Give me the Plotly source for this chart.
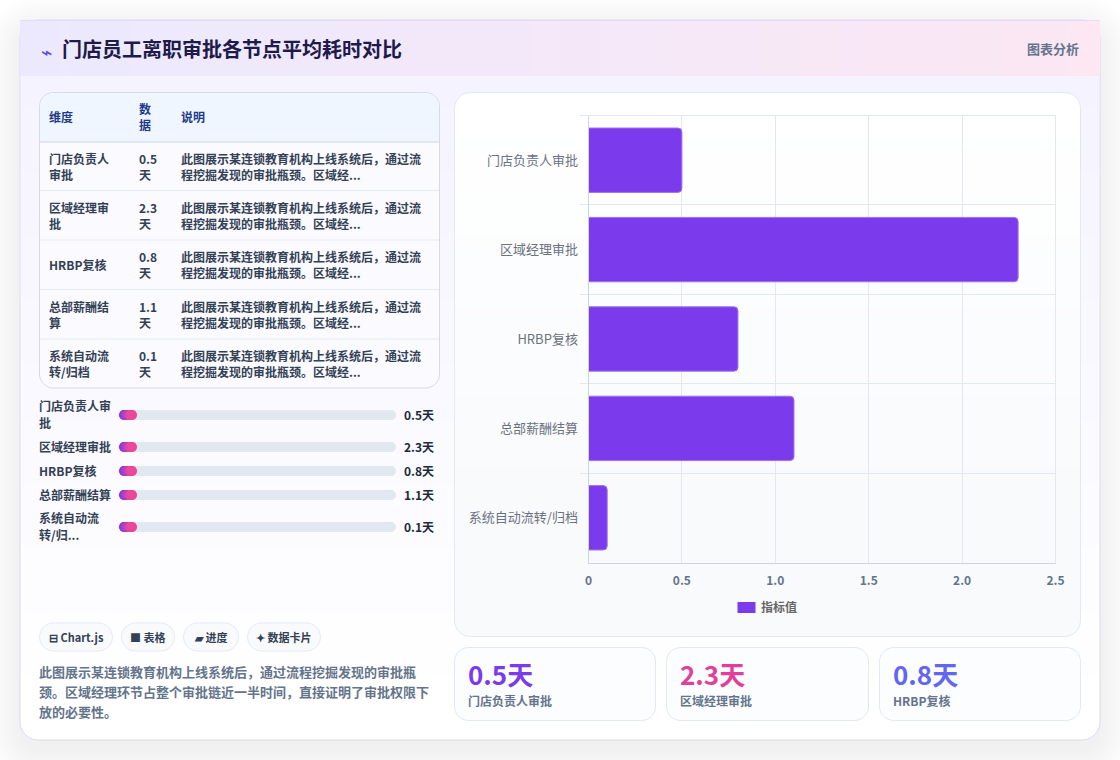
import numpy as np
import plotly.graph_objects as go

# Approval data
nodes = ["门店负责人审批", "区域经理审批", "HRBP复核", "总部薪酬结算", "系统自动流转/归档"]
days = [0.5, 2.3, 0.8, 1.1, 0.1]
day_labels = ["0.5天", "2.3天", "0.8天", "1.1天", "0.1天"]
progress_share = [0.065, 0.065, 0.065, 0.065, 0.065]
series_name = "指标值"
x_ticks = [0, 0.5, 1.0, 1.5, 2.0, 2.5]
x_tick_labels = ["0", "0.5", "1.0", "1.5", "2.0", "2.5"]

title = "门店员工离职审批各节点平均耗时对比"
badge = "图表分析"
table_head = ["维度", "数<br>据", "说明"]
table_nodes = ["门店负责人<br>审批", "区域经理审<br>批", "HRBP复核", "总部薪酬结<br>算", "系统自动流<br>转/归档"]
table_values = ["0.5<br>天", "2.3<br>天", "0.8<br>天", "1.1<br>天", "0.1<br>天"]
table_note = "此图展示某连锁教育机构上线系统后，通过流<br>程挖掘发现的审批瓶颈。区域经..."
progress_labels = ["门店负责人审<br>批", "区域经理审批", "HRBP复核", "总部薪酬结算", "系统自动流<br>转/归..."]
chips = ["⊟ Chart.js", "■ 表格", "▰ 进度", "✦ 数据卡片"]
summary = ["此图展示某连锁教育机构上线系统后，通过流程挖掘发现的审批瓶",
           "颈。区域经理环节占整个审批链近一半时间，直接证明了审批权限下",
           "放的必要性。"]
stat_colors = ["#7c3aed", "#e0409a", "#6366f1"]

FONT = "Noto Sans CJK SC, Noto Sans, sans-serif"
W, H = 1120, 760
shapes, notes = [], []


def rounded(x0, y0, x1, y1, r, corners=(1, 1, 1, 1)):
    """SVG path for a rectangle with selectively rounded corners (tl, tr, br, bl)."""
    k = 0.4477 * r
    tl, tr, br, bl = [r if c else 0 for c in corners]
    p = f"M{x0 + tl},{y0} L{x1 - tr},{y0} "
    if tr:
        p += f"C{x1 - k},{y0} {x1},{y0 + k} {x1},{y0 + r} "
    p += f"L{x1},{y1 - br} "
    if br:
        p += f"C{x1},{y1 - k} {x1 - k},{y1} {x1 - r},{y1} "
    p += f"L{x0 + bl},{y1} "
    if bl:
        p += f"C{x0 + k},{y1} {x0},{y1 - k} {x0},{y1 - r} "
    p += f"L{x0},{y0 + tl} "
    if tl:
        p += f"C{x0},{y0 + k} {x0 + k},{y0} {x0 + r},{y0} "
    return p + "Z"


def box(x0, y0, x1, y1, r, fill, line=None, lw=1, opacity=1, corners=(1, 1, 1, 1)):
    shapes.append(dict(type="path", path=rounded(x0, y0, x1, y1, r, corners), xref="x", yref="y",
                       fillcolor=fill, opacity=opacity, layer="below",
                       line=dict(color=line or "rgba(0,0,0,0)", width=lw if line else 0)))


def rect(x0, y0, x1, y1, fill):
    shapes.append(dict(type="rect", x0=x0, y0=y0, x1=x1, y1=y1, xref="x", yref="y",
                       fillcolor=fill, line=dict(width=0), layer="below"))


def hline(x0, x1, y, color):
    shapes.append(dict(type="line", x0=x0, x1=x1, y0=y, y1=y, xref="x", yref="y",
                       line=dict(color=color, width=1), layer="below"))


def vline(x, y0, y1, color):
    shapes.append(dict(type="line", x0=x, x1=x, y0=y0, y1=y1, xref="x", yref="y",
                       line=dict(color=color, width=1), layer="below"))


def mix(a, b, t):
    ca = [int(a[i:i + 2], 16) for i in (1, 3, 5)]
    cb = [int(b[i:i + 2], 16) for i in (1, 3, 5)]
    return "rgb(" + ",".join(str(round(p + (q - p) * t)) for p, q in zip(ca, cb)) + ")"


def text(x, y, s, size=12, color="#334155", bold=False, anchor="left", pitch=16):
    lines = s.split("<br>")
    top = y - pitch * (len(lines) - 1) / 2
    for i, line in enumerate(lines):
        notes.append(dict(x=x, y=top + i * pitch, xref="x", yref="y", text=line, showarrow=False,
                          xanchor=anchor, yanchor="middle", borderpad=0, borderwidth=0,
                          font=dict(family=FONT, size=size, color=color, weight=700 if bold else 400)))


# Soft drop shadow beneath the main card
for i in range(14):
    grow = 34 - i * 2.5
    box(20 - grow, 30 - grow, 1100 + grow, 750 + grow, 18 + grow, "#1e1b4b", opacity=0.0035)

# Main card and its vertical wash
box(20, 20, 1100, 740, 18, "#ffffff", line="#dcd8f3")
for y in np.arange(76, 700, 8):
    rect(21, y, 1099, y + 8, mix("#f5f3ff", "#ffffff", (y - 76) / 624))

# Header band with a horizontal gradient
for x in np.arange(20, 1100, 10):
    rect(x, 21, x + 10, 76, mix("#ece9fe", "#fce7f3", (x - 20) / 1080))
hline(20, 1100, 20.5, "#e2dcf8")
text(41, 50, "⌁", size=19, color="#4f46e5")
text(62, 48.8, title, size=20, color="#1e1b4b", bold=True)
text(1079, 48, badge, size=13, color="#64748b", bold=True, anchor="right")

# Table
rows_y = [142, 190.5, 240, 289.5, 339, 388]
box(39.5, 92.5, 439.5, 388, 14, "#fbfaff", line="#d6dae8")
box(40, 93, 439, 142, 14, "#eff6ff", corners=(1, 1, 0, 0))
hline(40, 439, 142, "#cfd6e6")
for y in rows_y[1:-1]:
    hline(40, 439, y, "#e6eaf3")
col_x = [49, 139, 181]
for cx, head in zip(col_x, table_head):
    text(cx, 116.5, head, color="#1e3a8a", bold=True)
for i in range(5):
    cy = (rows_y[i] + rows_y[i + 1]) / 2
    text(col_x[0], cy, table_nodes[i], bold=True)
    text(col_x[1], cy, table_values[i], bold=True)
    text(col_x[2], cy, table_note, bold=True)

# Progress rows: grey tracks, labels and values
progress_y = [415, 447, 471, 495, 527]
for label, value, y in zip(progress_labels, day_labels, progress_y):
    box(119, y - 5, 396, y + 5, 5, "#e2e8f0")
    text(39, y - 0.7, label, bold=True, pitch=17)
    text(404, y - 0.7, value, color="#1e293b", bold=True)

# Technology chips
chip_x = [(39, 113), (121, 175), (183, 239), (247, 321)]
for (x0, x1), chip in zip(chip_x, chips):
    box(x0 + 0.5, 623, x1 - 0.5, 651, 14, "#f8fafc", line="#e6eaf3")
    text((x0 + x1) / 2, 637, chip, size=11, color="#334155", bold=True, anchor="center")

for y, line in zip([671, 691, 711], summary):
    text(39, y, line, size=13, color="#64748b", bold=True)

# Chart card: white at the top, easing into a pale slate at the foot
box(454.5, 92.5, 1080.5, 636.5, 16, "#ffffff")
box(454.5, 500, 1080.5, 636.5, 16, "#f8fafc", corners=(0, 0, 1, 1))
for y in np.arange(108, 508, 8):
    rect(454.5, y, 1080.5, y + 8, mix("#ffffff", "#f8fafc", (y - 108) / 400))
box(454.5, 92.5, 1080.5, 636.5, 16, "rgba(0,0,0,0)", line="#e2e8f4")

# Closing gridlines along the top and right of the plot frame
hline(580, 1055.5, 115.5, "#e2e8f0")
vline(1055.5, 115.5, 562.5, "#e2e8f0")

# Legend swatch and caption
rect(737.5, 602, 755.5, 613, "#7c3aed")
text(761, 606.5, series_name, size=12, color="#666666", bold=True)

# Stat cards
stat_x = [(454.5, 655.5), (666.5, 868.5), (879.5, 1080.5)]
for (x0, x1), value, node, color in zip(stat_x, day_labels, nodes, stat_colors):
    box(x0, 647.5, x1, 720.5, 14, "#fcfdff", line="#e2e8f4")
    text(x0 + 13.5, 673, value, size=26, color=color, bold=True)
    text(x0 + 13.5, 700.5, node, size=12, color="#64748b", bold=True)

fig = go.Figure()

# Horizontal bars on their own axes
fig.add_trace(go.Bar(y=nodes, x=days, orientation="h", xaxis="x2", yaxis="y2", name=series_name,
                     marker=dict(color="#7c3aed", line=dict(color="#a071ee", width=1)),
                     hoverinfo="skip", showlegend=False))

# Gradient pills: a dense row of round markers along each row's own share
for share, y in zip(progress_share, progress_y):
    xs = np.linspace(0.018, share - 0.018, 26)
    colors = [mix("#7c3aed", "#ec4899", t) for t in np.linspace(0, 1, 26)]
    fig.add_trace(go.Scatter(x=xs, y=[y] * 26, xaxis="x3", yaxis="y", mode="markers",
                             marker=dict(size=10, color=colors, line=dict(width=0)),
                             hoverinfo="skip", showlegend=False))

# An invisible trace keeps the pixel-space canvas axes alive
fig.add_trace(go.Scatter(x=[0, W], y=[0, H], mode="markers", marker=dict(opacity=0),
                         hoverinfo="skip", showlegend=False))

hidden = dict(visible=False, fixedrange=True)
fig.update_layout(
    width=W, height=H, margin=dict(l=0, r=0, t=0, b=0, autoexpand=False),
    paper_bgcolor="#ffffff", plot_bgcolor="rgba(0,0,0,0)",
    font=dict(family=FONT), showlegend=False, barcornerradius=4, bargap=0.28,
    shapes=shapes, annotations=notes,
    xaxis=dict(range=[0, W], domain=[0, 1], **hidden),
    yaxis=dict(range=[H, 0], domain=[0, 1], **hidden),
    xaxis2=dict(domain=[588.5 / W, 1055.5 / W], range=[0, 2.5], anchor="y2", tickvals=x_ticks,
                ticktext=x_tick_labels, showgrid=True, gridcolor="#e2e8f0", gridwidth=1,
                showline=True, linecolor="#cbd5e1", linewidth=1, zeroline=False, ticks="",
                ticklabelstandoff=7, fixedrange=True,
                tickfont=dict(family=FONT, size=12, color="#64748b", weight=700)),
    yaxis2=dict(domain=[1 - 562.5 / H, 1 - 115.5 / H], anchor="x2", autorange="reversed",
                type="category", tickson="boundaries", ticks="outside", ticklen=8, tickwidth=1,
                tickcolor="#e2e8f0", showgrid=True, gridcolor="#e2e8f0", gridwidth=1,
                showline=True, linecolor="#cbd5e1", linewidth=1, zeroline=False, fixedrange=True,
                ticklabelstandoff=7,
                tickfont=dict(family=FONT, size=13, color="#6b7280")),
    xaxis3=dict(domain=[119 / W, 396 / W], range=[0, 1], anchor="y", **hidden),
)

fig.write_html("out.html", config=dict(displayModeBar=False))
